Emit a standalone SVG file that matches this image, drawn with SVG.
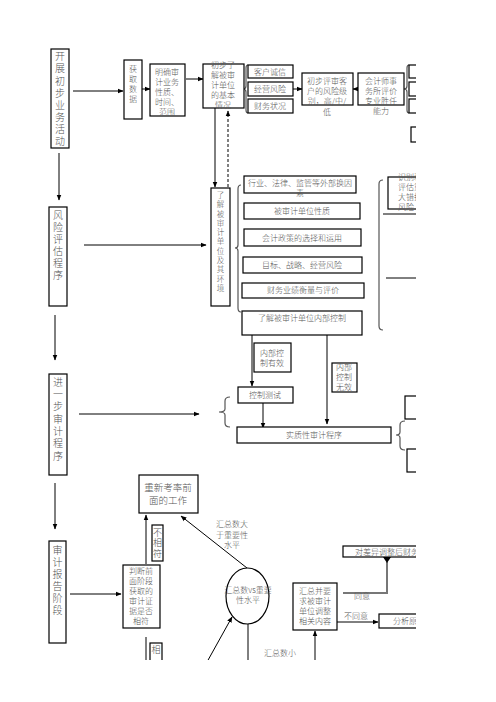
<svg xmlns="http://www.w3.org/2000/svg" width="496" height="702" viewBox="0 0 496 702">
<style>
text{font-family:"Noto Sans CJK SC","Liberation Serif",serif;fill:#555;text-anchor:middle;font-weight:300}
.s{font-size:8px}
.m{font-size:10px}
.vt{writing-mode:vertical-rl}
.b{fill:#fff;stroke:#000;stroke-width:1.2}
.c{fill:none;stroke:#000;stroke-width:1}
.g{fill:none;stroke:#777;stroke-width:2}
.br{fill:none;stroke:#555;stroke-width:1.2}
</style>
<defs>
<marker id="ah" viewBox="0 0 10 10" refX="9" refY="5" markerWidth="6" markerHeight="6" orient="auto"><path d="M0,1 L10,5 L0,9z" fill="#000"/></marker>
<clipPath id="cp"><rect x="0" y="0" width="416" height="660"/></clipPath>
</defs>
<rect width="496" height="702" fill="#fff"/>
<g clip-path="url(#cp)">
<g id="connectors">
<path class="c" d="M59,153 V200" marker-end="url(#ah)"/>
<path class="c" d="M55,315 V360" marker-end="url(#ah)"/>
<path class="c" d="M55,483 V529" marker-end="url(#ah)"/>
<path class="c" d="M73,91 H123" marker-end="url(#ah)"/>
<path class="c" d="M142,89 H150" marker-end="url(#ah)"/>
<path class="c" d="M186,79 H203" marker-end="url(#ah)"/>
<path class="c" d="M293,89 H302" marker-end="url(#ah)"/>
<path class="c" d="M358,89 H353" marker-end="url(#ah)"/>
<path class="c" d="M215,108 V187" marker-end="url(#ah)"/>
<path class="c" d="M228,187 V111" stroke-dasharray="3,2" marker-end="url(#ah)"/>
<path class="c" d="M84,245 H206" marker-end="url(#ah)"/>
<path class="c" d="M79,414 H199" marker-end="url(#ah)"/>
<path class="c" d="M252,335 V386" marker-end="url(#ah)"/>
<path class="c" d="M327,335 V424" marker-end="url(#ah)"/>
<path class="c" d="M263,403 V428" marker-end="url(#ah)"/>
<path class="c" d="M70,594 H121" marker-end="url(#ah)"/>
<path class="c" d="M146,564 V515" marker-end="url(#ah)"/>
<path class="c" d="M247,568 L181,516" marker-end="url(#ah)"/>
<path class="c" d="M207,662 L232,617" marker-end="url(#ah)"/>
<path class="c" d="M248,624 V662"/>
<path class="c" d="M146,637 V662"/>
<path class="c" d="M315,662 V631" marker-end="url(#ah)"/>
<path class="g" d="M343,593 H387 V562"/>
<path d="M383,557 L387,563 L391,557z" fill="#000"/>
<path class="c" d="M337,622 H378" marker-end="url(#ah)"/>
<path class="c" d="M383,214 H416" stroke="#555"/>
<path class="c" d="M386,278 H416" stroke="#555"/>
<path class="br" d="M248,65 Q246,65 246,68 V86 Q246,89 243,89 Q246,89 246,92 V110 Q246,113 248,113"/>
<path class="br" d="M409,65 Q407,65 407,68 V86 Q407,89 404,89 Q407,89 407,92 V110 Q407,113 409,113"/>
<path class="br" d="M241,185 Q238,185 238,189 V245 Q238,248 235,248 Q238,248 238,251 V308 Q238,312 241,312"/>
<path class="br" d="M383,180 Q379,180 379,184 V326 Q379,330 383,330"/>
<path class="br" d="M230,397 Q225,397 225,401 V409 Q225,412 219,412 Q225,412 225,415 V423 Q225,427 230,427"/>
<path class="br" d="M405,421 Q400,421 400,425 V432 Q400,435 396,435 Q400,435 400,438 V446 Q400,450 405,450"/>
</g>
<g id="stage1"><rect class="b" x="51" y="49" width="18" height="99"/>
<text class="m vt" x="60" y="100" letter-spacing="2.1">开展初步业务活动</text></g>
<g id="stage2"><rect class="b" x="49" y="207" width="18" height="99"/>
<text class="m vt" x="58" y="246" letter-spacing="2">风险评估程序</text></g>
<g id="stage3"><rect class="b" x="49" y="374" width="18" height="101"/>
<text class="m vt" x="58" y="420" letter-spacing="2.3">进一步审计程序</text></g>
<g id="stage4"><rect class="b" x="49" y="541" width="17" height="102"/>
<text class="m vt" x="57.5" y="581" letter-spacing="2">审计报告阶段</text></g>
<g id="getdata"><rect class="b" x="124" y="60" width="18" height="59"/>
<text class="s vt" x="133" y="85" letter-spacing="2">获取数据</text></g>
<g id="clarify"><rect class="b" x="150" y="64" width="35" height="52"/>
<text class="s"><tspan x="167" y="75">明确审</tspan><tspan x="167" y="85">计业务</tspan><tspan x="167" y="95">性质、</tspan><tspan x="167" y="105">时间、</tspan><tspan x="167" y="115">范围</tspan></text></g>
<g id="prelim"><rect class="b" x="203" y="64" width="41" height="44"/>
<text class="s"><tspan x="223" y="68">初步了</tspan><tspan x="223" y="78">解被审</tspan><tspan x="223" y="88">计单位</tspan><tspan x="223" y="98">的基本</tspan><tspan x="223" y="108">情况</tspan></text></g>
<g id="integrity"><rect class="b" x="248" y="65" width="45" height="13"/><text class="s" x="270" y="75">客户诚信</text></g>
<g id="bizrisk"><rect class="b" x="248" y="82" width="45" height="14"/><text class="s" x="270" y="92">经营风险</text></g>
<g id="fin"><rect class="b" x="248" y="99" width="45" height="14"/><text class="s" x="270" y="109">财务状况</text></g>
<g id="riskgrade"><rect class="b" x="302" y="73" width="51" height="32"/>
<text class="s"><tspan x="327" y="84">初步评审客</tspan><tspan x="327" y="94">户的风险级</tspan><tspan x="327" y="104">别，高/中/</tspan><tspan x="327" y="115">低</tspan></text></g>
<g id="firm"><rect class="b" x="358" y="73" width="46" height="32"/>
<text class="s"><tspan x="381" y="84">会计师事</tspan><tspan x="381" y="94">务所评价</tspan><tspan x="381" y="104">专业胜任</tspan><tspan x="381" y="114">能力</tspan></text></g>
<g id="rbox1"><rect class="b" x="409" y="65" width="20" height="13"/></g>
<g id="rbox2"><rect class="b" x="409" y="82" width="20" height="14"/></g>
<g id="rbox3"><rect class="b" x="409" y="99" width="20" height="14"/></g>
<g id="rbox4"><rect class="b" x="411" y="127" width="20" height="15"/></g>
<g id="understand"><rect class="b" x="211" y="188" width="19" height="118"/>
<text class="vt" style="font-size:7.5px" x="220.5" y="242.5" letter-spacing="1.8">了解被审计单位及其环境</text></g>
<g id="ext"><rect class="b" x="244" y="176" width="112" height="17"/>
<text class="s"><tspan x="300" y="186">行业、法律、监管等外部换因</tspan><tspan x="300" y="196">素</tspan></text></g>
<g id="nature"><rect class="b" x="244" y="203" width="116" height="16"/><text class="s" x="302" y="214">被审计单位性质</text></g>
<g id="policy"><rect class="b" x="244" y="229" width="117" height="17"/><text class="s" x="302" y="241">会计政策的选择和运用</text></g>
<g id="goal"><rect class="b" x="243" y="257" width="119" height="16"/><text class="s" x="302" y="268">目标、战略、经营风险</text></g>
<g id="perf"><rect class="b" x="242" y="283" width="122" height="15"/><text class="s" x="303" y="293">财务业绩衡量与评价</text></g>
<g id="ic"><rect class="b" x="242" y="311" width="120" height="24"/><text class="s" x="302" y="321">了解被审计单位内部控制</text></g>
<g id="identify"><rect class="b" x="388" y="177" width="40" height="32"/>
<text class="s" style="text-anchor:start"><tspan x="398" y="180">识别和</tspan><tspan x="398" y="190">评估重</tspan><tspan x="398" y="200">大错报</tspan><tspan x="398" y="210">风险</tspan></text></g>
<g id="iceff"><rect class="b" x="254" y="343" width="37" height="29"/>
<text class="s"><tspan x="272" y="356">内部控</tspan><tspan x="272" y="366">制有效</tspan></text></g>
<g id="icineff"><rect class="b" x="332" y="363" width="25" height="29"/>
<text class="s"><tspan x="344" y="370">内部</tspan><tspan x="344" y="380">控制</tspan><tspan x="344" y="390">无效</tspan></text></g>
<g id="ctest"><rect class="b" x="238" y="387" width="55" height="16"/><text class="s" x="265" y="398">控制测试</text></g>
<g id="subst"><rect class="b" x="237" y="427" width="154" height="16"/><text class="s" x="314" y="438">实质性审计程序</text></g>
<g id="rbox5"><rect class="b" x="405" y="396" width="20" height="23"/></g>
<g id="rbox6"><rect class="b" x="407" y="449" width="20" height="23"/></g>
<g id="redo"><rect class="b" x="139" y="475" width="59" height="38"/>
<text style="font-size:9.5px"><tspan x="168" y="491">重新考率前</tspan><tspan x="168" y="504">面的工作</tspan></text></g>
<g id="mismatch"><rect class="b" x="152" y="525" width="11" height="36"/>
<text class="vt" style="font-size:9px" x="157.5" y="543.5" letter-spacing="1.5">不相符</text></g>
<g id="judge"><rect class="b" x="123" y="565" width="37" height="63"/>
<text class="s"><tspan x="141" y="574">判断前</tspan><tspan x="141" y="584">面阶段</tspan><tspan x="141" y="594">获取的</tspan><tspan x="141" y="604">审计证</tspan><tspan x="141" y="614">据是否</tspan><tspan x="141" y="624">相符</tspan></text></g>
<g id="match"><rect class="b" x="150" y="643" width="12" height="30"/><text style="font-size:9px" x="156" y="653">相</text></g>
<g id="compare"><ellipse cx="247.5" cy="596" rx="21.5" ry="28" fill="#fff" stroke="#000" stroke-width="1.2"/>
<text class="s"><tspan x="248" y="593">汇总数vs重要</tspan><tspan x="248" y="603">性水平</tspan></text></g>
<g id="lbl-greater"><text class="s"><tspan x="232" y="527">汇总数大</tspan><tspan x="232" y="538">于重要性</tspan><tspan x="232" y="548">水平</tspan></text></g>
<g id="lbl-less"><text class="s" x="280" y="656">汇总数小</text></g>
<g id="adjust"><rect class="b" x="293" y="583" width="44" height="47"/>
<text class="s"><tspan x="315" y="594">汇总并要</tspan><tspan x="315" y="604">求被审计</tspan><tspan x="315" y="614">单位调整</tspan><tspan x="315" y="624">相关内容</tspan></text></g>
<g id="lbl-agree"><text class="s" x="362" y="599">同意</text></g>
<g id="lbl-disagree"><text class="s" x="356" y="619">不同意</text></g>
<g id="afteradj"><rect class="b" x="343" y="546" width="90" height="11"/><text class="s" style="text-anchor:start" x="355" y="555">对差异调整后财务报表</text></g>
<g id="analyze"><rect class="b" x="379" y="614" width="50" height="14"/><text class="s" style="text-anchor:start" x="393" y="624">分析原因</text></g>
</g>
</svg>
